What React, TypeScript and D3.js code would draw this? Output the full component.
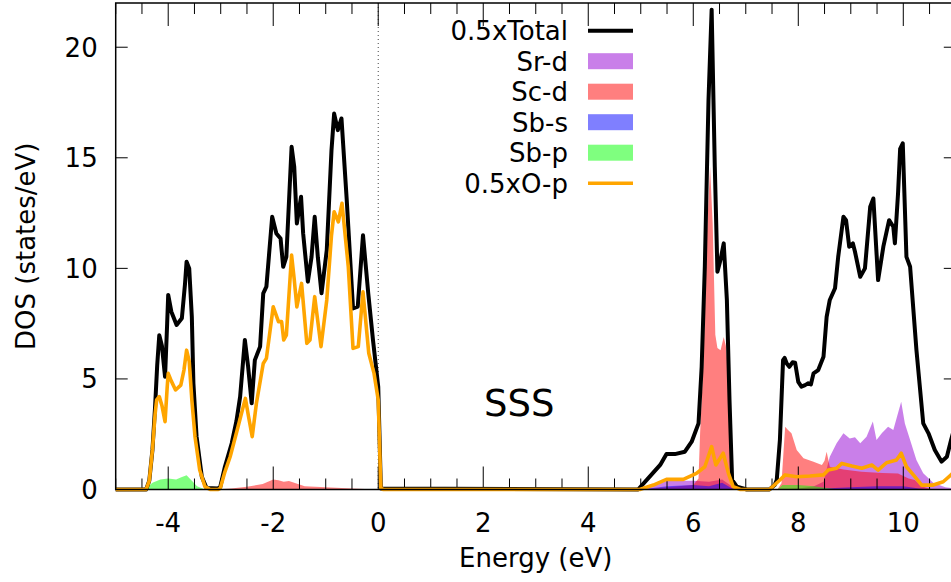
import React from "react";
import * as d3 from "d3";

// ---- data (energy eV, DOS states/eV) ----
const total: [number, number][] = [
  [-5, 0], [-4.42, 0], [-4.36, 0.4], [-4.3, 1.8], [-4.25, 3.74], [-4.21, 5.6], [-4.17, 6.98], [-4.12, 6.5], [-4.06, 5.1],
  [-4.02, 7.5], [-4.0, 8.8], [-3.94, 8.04], [-3.84, 7.44], [-3.74, 7.74], [-3.68, 9.3], [-3.65, 10.3], [-3.6, 10.0],
  [-3.55, 7.8], [-3.52, 4.8], [-3.46, 2.4], [-3.36, 0.58], [-3.27, 0.07], [-3.05, 0.05], [-3.01, 0.1], [-2.92, 1.03],
  [-2.79, 2.09], [-2.7, 3.1], [-2.63, 4.2], [-2.54, 6.76], [-2.48, 5.6], [-2.41, 3.9], [-2.35, 5.85], [-2.25, 6.46],
  [-2.19, 8.87], [-2.13, 9.17], [-2.02, 12.33], [-1.94, 11.58], [-1.86, 11.35], [-1.81, 10.07], [-1.75, 10.52],
  [-1.65, 15.5], [-1.6, 14.6], [-1.55, 12.03], [-1.47, 13.24], [-1.43, 11.58], [-1.34, 9.4], [-1.27, 10.52],
  [-1.21, 12.33], [-1.15, 10.5], [-1.08, 8.87], [-0.98, 10.83], [-0.89, 15.35], [-0.84, 17.0], [-0.77, 16.25],
  [-0.7, 16.78], [-0.6, 13.1], [-0.48, 8.19], [-0.39, 8.27], [-0.29, 11.5], [-0.19, 8.87], [-0.1, 6.76], [0.0, 4.65],
  [0.05, 0.05], [4.95, 0], [5.17, 0.58], [5.37, 1.11], [5.49, 1.6], [5.65, 1.6], [5.84, 1.71], [5.97, 2.16], [6.1, 2.99],
  [6.16, 5.55], [6.22, 10.07], [6.29, 17.6], [6.35, 21.7], [6.41, 14.6], [6.46, 9.85], [6.52, 10.4], [6.58, 11.13],
  [6.64, 8.57], [6.69, 4.05], [6.74, 0.43], [6.83, 0.13], [7.02, 0], [7.45, 0], [7.55, 0.2], [7.59, 0.43], [7.65, 2.24],
  [7.71, 5.85], [7.74, 5.95], [7.78, 5.7], [7.83, 5.55], [7.89, 5.75], [7.94, 5.73], [8.0, 4.87], [8.06, 4.65],
  [8.13, 4.72], [8.19, 4.8], [8.24, 4.75], [8.29, 5.25], [8.38, 5.4], [8.48, 6.0], [8.54, 7.81], [8.6, 8.57],
  [8.7, 9.1], [8.76, 10.52], [8.86, 12.33], [8.91, 12.18], [8.97, 10.98], [9.04, 11.13], [9.08, 10.75], [9.18, 9.62],
  [9.27, 10.0], [9.37, 12.79], [9.43, 13.16], [9.52, 9.47], [9.62, 10.98], [9.73, 12.18], [9.81, 11.88], [9.84, 11.13],
  [9.9, 13.39], [9.94, 15.4], [9.99, 15.65], [10.06, 10.52], [10.13, 10.07], [10.25, 6.31], [10.38, 2.99],
  [10.48, 2.54], [10.6, 1.79], [10.73, 1.26], [10.83, 1.48], [10.91, 2.24], [11, 3.0],
];

const oP: [number, number][] = [
  [-5, 0], [-4.42, 0], [-4.36, 0.4], [-4.3, 1.8], [-4.25, 3.4], [-4.22, 4.05], [-4.17, 4.2], [-4.12, 3.8], [-4.06, 3.07],
  [-4.02, 4.6], [-4.0, 5.25], [-3.94, 4.9], [-3.86, 4.5], [-3.76, 4.72], [-3.7, 5.4], [-3.65, 6.3], [-3.6, 5.8],
  [-3.55, 4.05], [-3.49, 2.4], [-3.4, 0.88], [-3.3, 0.13], [-3.2, 0], [-3.05, 0], [-3.01, 0.05], [-2.92, 0.8],
  [-2.82, 1.48], [-2.67, 2.84], [-2.53, 4.12], [-2.47, 3.3], [-2.4, 2.39], [-2.32, 3.9], [-2.19, 5.7], [-2.13, 5.93],
  [-2.0, 8.26], [-1.9, 7.59], [-1.84, 7.59], [-1.8, 6.76], [-1.75, 6.98], [-1.65, 10.6], [-1.6, 9.5], [-1.55, 8.26],
  [-1.46, 9.32], [-1.36, 6.61], [-1.3, 6.76], [-1.21, 8.72], [-1.09, 6.46], [-0.98, 8.57], [-0.89, 11.5],
  [-0.84, 12.56], [-0.76, 12.1], [-0.69, 12.94], [-0.57, 10.07], [-0.48, 6.38], [-0.38, 6.46], [-0.29, 8.94],
  [-0.18, 6.16], [-0.08, 5.25], [0, 4.05], [0.05, 0.05], [0.1, 0], [4.98, 0], [5.24, 0.2], [5.49, 0.46], [5.81, 0.46],
  [6.06, 0.73], [6.22, 1.03], [6.35, 1.94], [6.43, 1.11], [6.57, 1.64], [6.67, 0.73], [6.76, 0.13], [6.9, 0],
  [7.45, 0], [7.65, 0.43], [7.75, 0.66], [7.97, 0.58], [8.22, 0.61], [8.48, 0.66], [8.57, 0.88], [8.73, 0.96],
  [8.83, 1.18], [9.02, 1.06], [9.21, 0.96], [9.4, 1.11], [9.52, 0.88], [9.68, 1.21], [9.87, 1.33], [9.96, 1.64],
  [10.06, 1.03], [10.22, 0.58], [10.35, 0.2], [10.57, 0.2], [10.76, 0.35], [10.91, 0.66], [11, 0.9],
];

const srD: [number, number][] = [
  [-5, 0], [5.0, 0], [5.3, 0.2], [5.5, 0.4], [6.0, 0.4], [6.3, 0.35], [6.55, 0.45], [6.7, 0.2], [6.8, 0], [7.6, 0],
  [8.0, 0.05], [8.3, 0.15], [8.48, 0.35], [8.6, 1.48], [8.73, 2.09], [8.86, 2.54], [8.98, 2.31], [9.08, 2.36],
  [9.18, 2.09], [9.3, 2.39], [9.42, 3.07], [9.49, 2.24], [9.59, 2.54], [9.71, 2.84], [9.81, 2.69], [9.88, 3.29],
  [9.96, 3.97], [10.03, 2.99], [10.13, 2.24], [10.25, 1.33], [10.38, 0.73], [10.57, 0.3], [10.8, 0.1], [11, 0.05],
];

const scD: [number, number][] = [
  [-5, 0], [-3.1, 0], [-2.8, 0.05], [-2.5, 0.12], [-2.2, 0.25], [-2.0, 0.45], [-1.9, 0.42], [-1.8, 0.35], [-1.7, 0.38],
  [-1.6, 0.3], [-1.4, 0.15], [-1.0, 0.1], [-0.5, 0.05], [0, 0], [5.0, 0], [5.5, 0.1], [6.0, 0.2], [6.1, 0.5],
  [6.13, 2.54], [6.19, 5.55], [6.26, 11.6], [6.32, 14.6], [6.37, 12.0], [6.42, 7.0], [6.46, 6.4], [6.52, 6.3],
  [6.58, 6.9], [6.62, 6.5], [6.66, 5.5], [6.7, 2.5], [6.77, 0.2], [6.85, 0], [7.6, 0], [7.68, 0.28], [7.75, 2.84],
  [7.8, 2.7], [7.87, 2.54], [7.97, 1.79], [8.1, 1.41], [8.29, 1.26], [8.45, 1.11], [8.5, 1.3], [8.54, 1.71],
  [8.6, 1.03], [8.86, 0.9], [9.2, 0.8], [9.6, 0.75], [9.9, 0.72], [10.1, 0.5], [10.22, 0.43], [10.35, 0.15],
  [10.5, 0.03], [10.6, 0], [11, 0],
];

const sbS: [number, number][] = [
  [-5, 0], [5.0, 0], [5.5, 0.15], [6.0, 0.2], [6.3, 0.15], [6.55, 0.3], [6.7, 0.1], [6.8, 0], [8.0, 0], [8.5, 0.05],
  [9.0, 0.1], [9.5, 0.15], [10.0, 0.15], [10.3, 0.05], [10.6, 0], [11, 0],
];

const sbP: [number, number][] = [
  [-5, 0], [-4.45, 0], [-4.3, 0.3], [-4.15, 0.45], [-4.0, 0.5], [-3.85, 0.45], [-3.75, 0.55], [-3.65, 0.65],
  [-3.55, 0.4], [-3.45, 0.15], [-3.3, 0], [7.6, 0], [7.7, 0.2], [8.0, 0.2], [8.3, 0.15], [8.6, 0.05], [8.8, 0], [11, 0],
];

const xMajorTicks = [-4, -2, 0, 2, 4, 6, 8, 10];
const yTicks = [0, 5, 10, 15, 20];

const legendItems = [
  { label: "0.5xTotal", kind: "line", color: "#000000" },
  { label: "Sr-d", kind: "fill", color: "darkviolet" },
  { label: "Sc-d", kind: "fill", color: "#ff0000" },
  { label: "Sb-s", kind: "fill", color: "#0000ff" },
  { label: "Sb-p", kind: "fill", color: "#00ff00" },
  { label: "0.5xO-p", kind: "line", color: "#ffa500" },
];

export default function App() {
  const W = 951, H = 582;
  const left = 115.7, right = 955.8, top = 3, bottom = 489.5;
  const x = d3.scaleLinear().domain([-5, 11]).range([left, right]);
  const y = d3.scaleLinear().domain([0, 22]).range([bottom, top]);
  const line = d3.line<[number, number]>().x((d) => x(d[0])).y((d) => y(d[1]));
  const area = d3.area<[number, number]>().x((d) => x(d[0])).y0(y(0)).y1((d) => y(d[1]));
  const minorTicks = d3.range(-5, 11.01, 0.5).filter((t) => !xMajorTicks.includes(t));
  const font = "'DejaVu Sans', sans-serif";
  const fs = 26;
  const fills: { data: [number, number][]; color: string }[] = [
    { data: srD, color: "darkviolet" },
    { data: scD, color: "#ff0000" },
    { data: sbS, color: "#0000ff" },
    { data: sbP, color: "#00ff00" },
  ];
  return (
    <svg width={W} height={H} style={{ position: "absolute", left: 0, top: 0, background: "#fff" }} fontFamily={font}>
      <rect x={0} y={0} width={W} height={H} fill="#fff" />
      {fills.map((f, i) => (
        <path key={i} d={area(f.data) || ""} fill={f.color} fillOpacity={0.5} stroke="none" />
      ))}
      {/* zero line */}
      <line x1={x(0)} x2={x(0)} y1={top} y2={bottom} stroke="#444" strokeWidth={1} strokeDasharray="1,3" />
      {/* ticks */}
      {xMajorTicks.map((t) => (
        <g key={"xm" + t}>
          <line x1={x(t)} x2={x(t)} y1={bottom} y2={bottom - 23} stroke="#000" strokeWidth={1} />
          <line x1={x(t)} x2={x(t)} y1={top} y2={top + 23} stroke="#000" strokeWidth={1} />
          <text x={x(t)} y={532} fontSize={fs} textAnchor="middle" fill="#000">
            {t}
          </text>
        </g>
      ))}
      {minorTicks.map((t) => (
        <g key={"xn" + t}>
          <line x1={x(t)} x2={x(t)} y1={bottom} y2={bottom - 11} stroke="#000" strokeWidth={1} />
          <line x1={x(t)} x2={x(t)} y1={top} y2={top + 11} stroke="#000" strokeWidth={1} />
        </g>
      ))}
      {yTicks.map((t) => (
        <g key={"y" + t}>
          <line x1={left} x2={left + 12} y1={y(t)} y2={y(t)} stroke="#000" strokeWidth={1} />
          <line x1={right} x2={right - 12} y1={y(t)} y2={y(t)} stroke="#000" strokeWidth={1} />
          <text x={97.7} y={y(t) + 9.5} fontSize={fs} textAnchor="end" fill="#000">
            {t}
          </text>
        </g>
      ))}
      {/* curves */}
      <path d={line(total) || ""} fill="none" stroke="#000" strokeWidth={4} strokeLinejoin="round" />
      <path d={line(oP) || ""} fill="none" stroke="#ffa500" strokeWidth={3.6} strokeLinejoin="round" />
      {/* frame */}
      <rect x={left} y={top} width={right - left} height={bottom - top} fill="none" stroke="#000" strokeWidth={1.5} />
      {/* legend */}
      {legendItems.map((it, i) => {
        const cy = 30.7 + i * 30.5;
        return (
          <g key={it.label}>
            <text x={568} y={cy + 9.3} fontSize={fs} textAnchor="end" fill="#000">
              {it.label}
            </text>
            {it.kind === "line" ? (
              <line x1={588} x2={633} y1={cy} y2={cy} stroke={it.color} strokeWidth={it.color === "#000000" ? 4 : 3.6} />
            ) : (
              <rect x={588} y={cy - 8} width={45} height={16} fill={it.color} fillOpacity={0.5} />
            )}
          </g>
        );
      })}
      <text x={484} y={416} fontSize={37} fill="#000">SSS</text>
      <text x={(left + right) / 2} y={567} fontSize={fs} textAnchor="middle" fill="#000">
        Energy (eV)
      </text>
      <text
        transform={`translate(35, ${(top + bottom) / 2}) rotate(-90)`}
        fontSize={fs}
        textAnchor="middle"
        fill="#000"
      >
        DOS (states/eV)
      </text>
    </svg>
  );
}
